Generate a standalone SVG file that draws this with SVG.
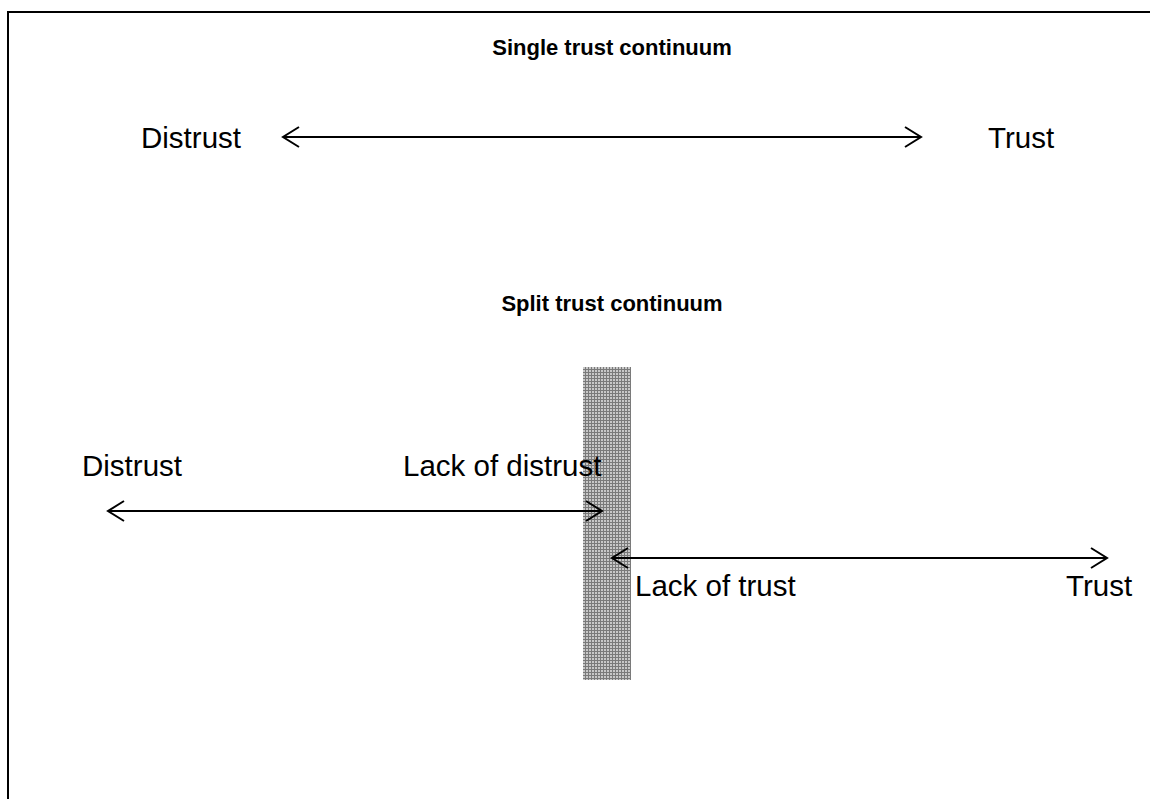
<svg xmlns="http://www.w3.org/2000/svg" width="1150" height="799" viewBox="0 0 1150 799">
<style>
.t{font-family:"Liberation Sans",Arial,sans-serif;font-size:29.5px;fill:#000}
.b{font-weight:bold;text-anchor:middle;font-size:22px}
.ln{stroke:#000;stroke-width:2;fill:none}
</style>
<defs>
<pattern id="chk" width="3" height="3" patternUnits="userSpaceOnUse">
<rect width="3" height="3" fill="#c8c8c8"/>
<rect width="1" height="3" fill="#7a7a7a"/>
<rect width="3" height="1" fill="#7a7a7a"/>
</pattern>
</defs>
<rect width="1150" height="799" fill="#fff"/>
<g id="frame"><path class="ln" d="M8,799 V12 H1150"/></g>
<g id="bar"><rect x="583" y="367" width="48" height="313" fill="url(#chk)"/></g>
<g id="title1"><text class="t b" x="612" y="55">Single trust continuum</text></g>
<g id="distrust1"><text class="t" x="141" y="148">Distrust</text></g>
<g id="trust1"><text class="t" x="988" y="148">Trust</text></g>
<g id="title2"><text class="t b" x="612" y="311">Split trust continuum</text></g>
<g id="distrust2"><text class="t" x="82" y="476">Distrust</text></g>
<g id="lackdistrust"><text class="t" x="403" y="476">Lack of distrust</text></g>
<g id="lacktrust"><text class="t" x="635" y="596">Lack of trust</text></g>
<g id="trust2"><text class="t" x="1066" y="596">Trust</text></g>
<g id="connectors" class="ln">
<path d="M283,137 H921 M299,127 L283,137 L299,147 M905,127 L921,137 L905,147"/>
<path d="M108,511 H602 M124,501 L108,511 L124,521 M586,501 L602,511 L586,521"/>
<path d="M612,558 H1107 M628,548 L612,558 L628,568 M1091,548 L1107,558 L1091,568"/>
</g>
</svg>
